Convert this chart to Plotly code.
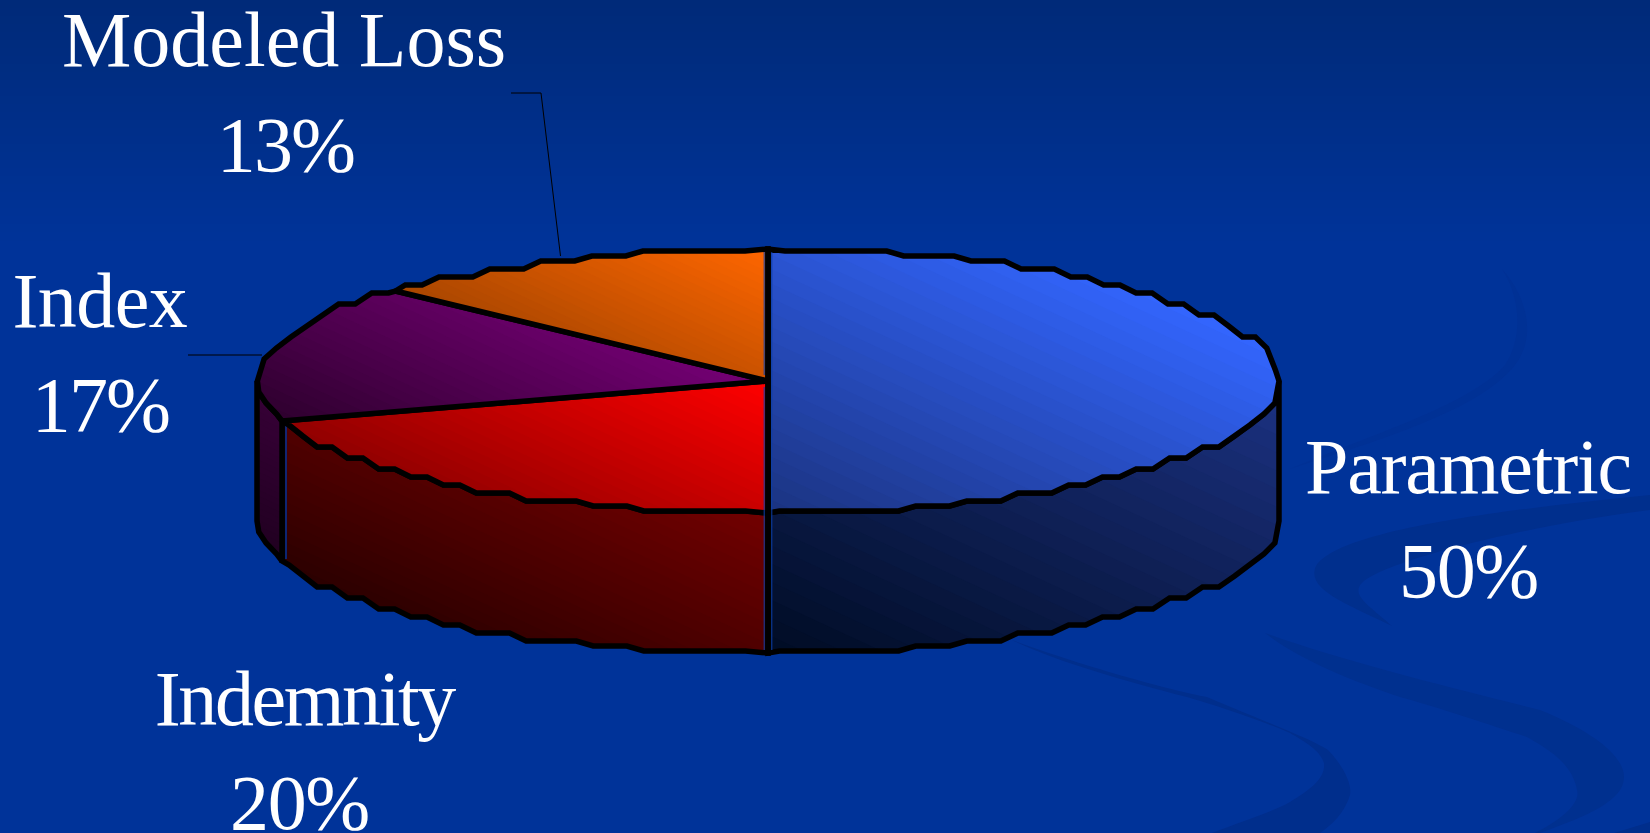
import json
import math
import plotly.graph_objects as go

# ---- chart data -------------------------------------------------------
categories = ["Parametric", "Indemnity", "Index", "Modeled Loss"]
shares = [50, 20, 17, 13]

top_dark = ["#1b3380", "#8f0000", "#2e002e", "#a84600"]
top_light = ["#3366ff", "#ff0000", "#750075", "#ff6600"]
wall_dark = ["#000c24", "#2b0000", "#200020", "#2a1000"]
wall_light = ["#1c3283", "#730000", "#380038", "#602800"]

# label centres in page pixels: (x, name baseline, percent baseline)
label_x = [1468, 304, 100, 284]
pct_x = [1468, 299, 100, 285]
name_y = [492, 724, 326, 65]
pct_y = [597, 829, 431, 171]
name_spacing = [-1.2, -2.4, -0.6, 0]
pct_spacing = [-1.3, -1.3, -1.8, -1.8]

# ---- geometry of the drawing -------------------------------------------
W, H = 1650, 833
CX, CY, RX, RY = 768, 381, 511, 132
DEPTH = 140
STEP_PX = 17
FONT = "Liberation Serif"
FSIZE = 78
GRAD = (0.42, -0.91)

# rim nodes around the ellipse, spaced evenly on screen
rim_nodes = []
_a = 0.0
while _a < 360:
    rim_nodes.append(_a)
    _r = math.radians(_a)
    _a += math.degrees(STEP_PX / math.hypot(RX * math.cos(_r), RY * math.sin(_r)))


def rim_pt(a, exact=False):
    r = math.radians(a)
    x = CX + RX * math.sin(r)
    y = CY - RY * math.cos(r)
    s = abs(math.sin(r))
    g = 5 if s < 0.45 else (8 if s < 0.75 else 11)
    if exact:
        g = 2
    y = round((y - CY) / g) * g + CY
    return (x, y)


def rim(a0, a1):
    pts = [rim_pt(a0, True)]
    pts += [rim_pt(a) for a in rim_nodes if a0 + 0.8 < a < a1 - 0.8]
    pts.append(rim_pt(a1, True))
    return pts


def clip(poly, d, t):
    out = []
    m = len(poly)
    for i in range(m):
        p, q = poly[i], poly[(i + 1) % m]
        fp = p[0] * d[0] + p[1] * d[1] - t
        fq = q[0] * d[0] + q[1] * d[1] - t
        if fp >= 0:
            out.append(p)
        if (fp >= 0) != (fq >= 0):
            s = fp / (fp - fq)
            out.append((p[0] + (q[0] - p[0]) * s, p[1] + (q[1] - p[1]) * s))
    return out


def rgb(h):
    return [int(h[i:i + 2], 16) for i in (1, 3, 5)]


def mix(a, b, s):
    ca, cb = rgb(a), rgb(b)
    return "rgb(%d,%d,%d)" % tuple(round(ca[i] + (cb[i] - ca[i]) * s) for i in range(3))


fig = go.Figure()


def add_face(poly, c0, c1, n=28):
    proj = [p[0] * GRAD[0] + p[1] * GRAD[1] for p in poly]
    lo, hi = min(proj), max(proj)
    for i in range(n):
        c = clip(poly, GRAD, lo + (hi - lo) * i / n)
        if len(c) < 3:
            continue
        fig.add_trace(go.Scatter(
            x=[p[0] for p in c] + [c[0][0]], y=[p[1] for p in c] + [c[0][1]],
            mode="lines", fill="toself", line=dict(width=0),
            fillcolor=mix(c0, c1, (i + 0.5) / n),
            hoverinfo="skip", showlegend=False))


def add_line(pts, color="#000000", width=5.5, close=False):
    if close:
        pts = pts + [pts[0]]
    fig.add_trace(go.Scatter(
        x=[p[0] for p in pts], y=[p[1] for p in pts], mode="lines",
        line=dict(color=color, width=width), hoverinfo="skip", showlegend=False))


# slice angles come from the values
total = sum(shares)
starts, ends = [], []
acc = 0
for v in shares:
    starts.append(acc / total * 360)
    acc += v
    ends.append(acc / total * 360)

# walls: only the front half (90..270) shows
for i in range(len(shares)):
    a0, a1 = max(starts[i], 90), min(ends[i], 270)
    if a1 <= a0:
        continue
    r = rim(a0, a1)
    poly = r + [(x, y + DEPTH) for x, y in reversed(r)]
    add_face(poly, wall_dark[i], wall_light[i])
    add_line(poly, close=True)
    if a0 > 180:
        # thin background-coloured seam beside the wall boundary
        x0, y0 = r[0]
        add_line([(x0 + 4, y0 + 3), (x0 + 4, y0 + DEPTH - 2)], "#003399", 1.5)

# top faces
for i in range(len(shares)):
    r = rim(starts[i], ends[i])
    poly = [(CX, CY)] + r
    add_face(poly, top_dark[i], top_light[i])
    add_line(poly, close=True)

# hub line with its thin seams on the front wall and the top
add_line([(CX - 3.8, CY - RY + 3), (CX - 3.8, CY - 6)], "#0b3fa8", 1)
add_line([(CX + 3.8, CY - RY + 3), (CX + 3.8, CY + RY + DEPTH - 3)], "#0b3fa8", 1)
add_line([(CX - 3.8, CY + 6), (CX - 3.8, CY + RY + DEPTH - 3)], "#0b3fa8", 1)
add_line([(CX, CY - RY), (CX, CY + RY + DEPTH)])

# leader lines
add_line([(511, 93), (541, 93), (560.5, 256)], "#000000", 1)
add_line([(188, 355), (262, 355)], "#000000", 1)

# background: gradient + swooshes
shapes = []
BG_TOP, BG_BOTTOM = "#002a78", "#003399"
for i in range(30):
    shapes.append(dict(type="rect", xref="x", yref="y", layer="below",
                       x0=0, x1=W, y0=i * 8, y1=(i + 1) * 8 + 1,
                       fillcolor=mix(BG_TOP, BG_BOTTOM, (i + 0.5) / 30), line_width=0))
swooshes = [
    ("M 1650 495 C 1500 510 1340 530 1316 566 C 1305 590 1350 605 1392 626 "
     "C 1370 606 1350 595 1362 583 C 1385 560 1530 525 1650 510 Z", "#002f8d"),
    ("M 1265 633 C 1340 660 1440 685 1540 710 C 1590 730 1624 755 1624 777 "
     "C 1624 800 1590 815 1540 833 L 1535 833 C 1570 815 1580 800 1577 790 "
     "C 1572 760 1540 745 1527 737 C 1490 725 1440 708 1400 697 C 1350 680 1300 660 1265 633 Z",
     "#00308f"),
    ("M 1012 640 C 1100 672 1180 692 1207 697 C 1260 720 1310 738 1328 750 "
     "C 1345 768 1352 785 1350 795 C 1345 812 1332 825 1320 833 L 1212 833 "
     "C 1240 822 1270 813 1290 802 C 1310 790 1326 778 1324 763 C 1320 750 1305 742 1290 733 "
     "C 1260 720 1215 705 1187 697 C 1125 681 1055 661 1012 640 Z", "#002e8c"),
    ("M 1614 833 L 1650 822 L 1650 833 Z", "#002e8c"),
    ("M 1502 269 C 1530 300 1535 340 1515 365 C 1480 410 1380 440 1290 469 "
     "C 1370 435 1470 405 1505 365 C 1522 340 1522 300 1502 269 Z", "#003195"),
]
for path, col in swooshes:
    shapes.append(dict(type="path", xref="x", yref="y", layer="below", path=path,
                       fillcolor=col, line_width=0))

# labels
ann = []
spacing = []
for i, name in enumerate(categories):
    ann.append(dict(x=label_x[i], y=name_y[i] - 26, text=name, xref="x", yref="y",
                    showarrow=False, xanchor="center", yanchor="middle",
                    font=dict(family=FONT, size=FSIZE, color="white")))
    ann.append(dict(x=pct_x[i], y=pct_y[i] - 27, text="%d%%" % shares[i], xref="x", yref="y",
                    showarrow=False, xanchor="center", yanchor="middle",
                    font=dict(family=FONT, size=FSIZE, color="white")))
    spacing += [name_spacing[i], pct_spacing[i]]

fig.update_layout(
    width=W, height=H, autosize=False,
    margin=dict(l=0, r=0, t=0, b=0, pad=0),
    paper_bgcolor=BG_BOTTOM, plot_bgcolor=BG_BOTTOM,
    xaxis=dict(range=[0, W], visible=False, fixedrange=True),
    yaxis=dict(range=[H, 0], visible=False, fixedrange=True),
    shapes=shapes, annotations=ann, showlegend=False,
)

post = ("document.body.style.margin='0';document.body.style.overflow='hidden';"
        "var sp=%s;document.querySelectorAll('.annotation-text').forEach(function(t,i){"
        "t.style.letterSpacing=sp[i]+'px';});" % json.dumps(spacing))
fig.write_html("out.html", config=dict(displayModeBar=False), post_script=post)
